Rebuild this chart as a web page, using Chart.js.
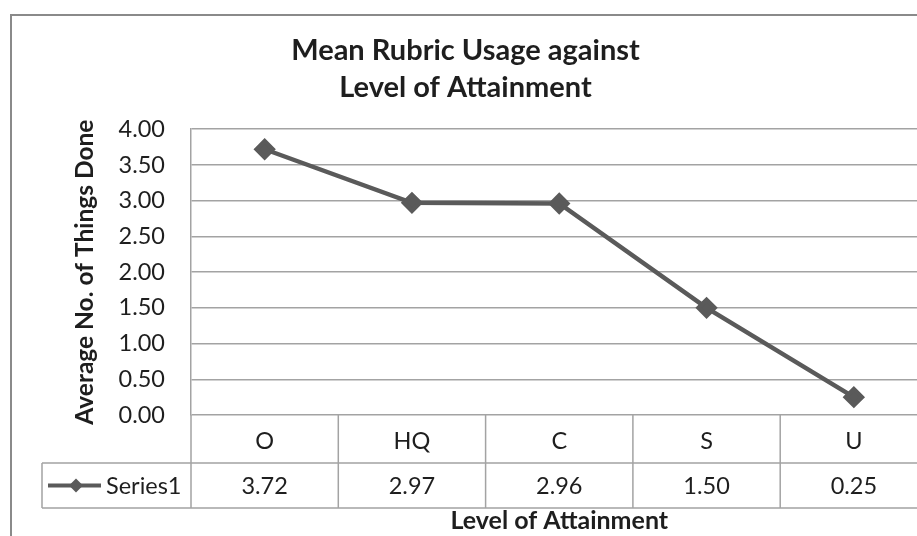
<!DOCTYPE html>
<html>
<head>
<meta charset="utf-8">
<script src="https://cdn.jsdelivr.net/npm/chart.js@4.4.1/dist/chart.umd.min.js"></script>
<style>
html,body{margin:0;padding:0;background:#fff;overflow:hidden;width:917px;height:536px;}
canvas{display:block;}
</style>
</head>
<body>
<canvas id="c" width="940" height="536"></canvas>
<script>
const categories = ['O', 'HQ', 'C', 'S', 'U'];
const seriesName = 'Series1';
const values = [3.72, 2.97, 2.96, 1.50, 0.25];
const titleLines = ['Mean Rubric Usage against', 'Level of Attainment'];
const yTitle = 'Average No. of Things Done';
const xTitle = 'Level of Attainment';

const FONT = 'Lato';
const LINE = '#5a5a5a';
const GRID = '#a3a3a3';
const TEXT = '#1e1e1e';
const TICK_SIZE = 23.5;

const tablePlugin = {
  id: 'tablePlugin',
  beforeDraw(chart) {
    const ctx = chart.ctx;
    ctx.save();
    ctx.fillStyle = '#fff';
    ctx.fillRect(0, 0, chart.width, chart.height);
    ctx.strokeStyle = '#8a8a8a';
    ctx.lineWidth = 2;
    ctx.beginPath();
    ctx.moveTo(11, 600);
    ctx.lineTo(11, 15);
    ctx.lineTo(1000, 15);
    ctx.stroke();
    ctx.restore();
  },
  afterDraw(chart) {
    const ctx = chart.ctx;
    const a = chart.chartArea;
    const xs = chart.scales.x;
    const n = categories.length;
    const w = (a.right - a.left) / n;
    const rowTop = a.bottom;
    const rowMid = a.bottom + 48;
    const rowBot = a.bottom + 93;
    const legLeft = 42;
    ctx.save();
    ctx.strokeStyle = GRID;
    ctx.lineWidth = 1.5;
    ctx.beginPath();
    ctx.moveTo(legLeft, rowMid); ctx.lineTo(a.right + 20, rowMid);
    ctx.moveTo(legLeft, rowBot); ctx.lineTo(a.right + 20, rowBot);
    ctx.moveTo(legLeft, rowMid); ctx.lineTo(legLeft, rowBot);
    for (let i = 0; i <= n; i++) {
      const x = a.left + i * w;
      ctx.moveTo(x, rowTop); ctx.lineTo(x, rowBot);
    }
    ctx.stroke();
    ctx.fillStyle = TEXT;
    ctx.font = TICK_SIZE + 'px ' + FONT;
    ctx.textAlign = 'center';
    ctx.textBaseline = 'middle';
    values.forEach((v, i) => {
      ctx.fillText(v.toFixed(2), xs.getPixelForValue(i), (rowMid + rowBot) / 2 + 1);
    });
    const ky = (rowMid + rowBot) / 2;
    ctx.strokeStyle = LINE;
    ctx.lineWidth = 4;
    ctx.beginPath();
    ctx.moveTo(48, ky); ctx.lineTo(101, ky);
    ctx.stroke();
    ctx.fillStyle = LINE;
    ctx.beginPath();
    const r = 7;
    ctx.moveTo(76, ky - r); ctx.lineTo(76 + r, ky); ctx.lineTo(76, ky + r); ctx.lineTo(76 - r, ky);
    ctx.closePath(); ctx.fill();
    ctx.fillStyle = TEXT;
    ctx.textAlign = 'left';
    ctx.fillText(seriesName, 106, ky + 1);
    ctx.restore();
  }
};

new Chart(document.getElementById('c'), {
  type: 'line',
  data: {
    labels: categories,
    datasets: [{
      label: seriesName,
      data: values,
      borderColor: LINE,
      backgroundColor: LINE,
      borderWidth: 4.5,
      pointStyle: 'rectRot',
      pointRadius: 8,
      pointHoverRadius: 8,
      pointBackgroundColor: LINE,
      pointBorderColor: LINE,
      tension: 0
    }]
  },
  options: {
    responsive: false,
    animation: false,
    events: [],
    layout: { padding: { left: 0, right: 9, top: 0, bottom: 0 } },
    plugins: {
      legend: { display: false },
      tooltip: { enabled: false },
      title: {
        display: true,
        text: titleLines,
        color: TEXT,
        font: { family: FONT, size: 29, weight: 'bold', lineHeight: 1.28 },
        padding: { top: 32, bottom: 23 }
      }
    },
    scales: {
      x: {
        type: 'category',
        offset: true,
        grid: { display: false, drawTicks: false },
        border: { display: false },
        ticks: { color: TEXT, font: { family: FONT, size: TICK_SIZE }, padding: 12 },
        title: {
          display: true,
          text: xTitle,
          color: TEXT,
          font: { family: FONT, size: 25, weight: 'bold' },
          padding: { top: 50, bottom: 0 }
        },
        afterFit(s) { s.height = 121; }
      },
      y: {
        min: 0,
        max: 4,
        ticks: {
          stepSize: 0.5,
          color: TEXT,
          padding: 26,
          font: { family: FONT, size: TICK_SIZE },
          callback: v => Number(v).toFixed(2)
        },
        grid: { color: GRID, lineWidth: 1.5, drawTicks: false },
        border: { display: true, color: GRID, width: 1.5 },
        title: {
          display: true,
          text: yTitle,
          color: TEXT,
          font: { family: FONT, size: 24.5, weight: 'bold' },
          padding: { top: 70, bottom: 0 }
        },
        afterFit(s) { s.width = 191; }
      }
    }
  },
  plugins: [tablePlugin]
});
</script>
</body>
</html>
